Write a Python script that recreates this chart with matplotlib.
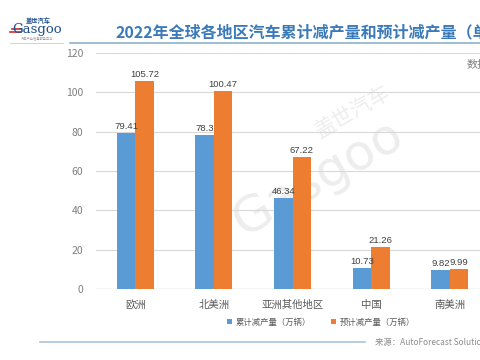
import matplotlib
matplotlib.use('Agg')
import matplotlib.pyplot as plt
import numpy as np

plt.rcParams['font.family'] = ['Noto Sans CJK SC', 'DejaVu Sans']

# data
regions = ['欧洲', '北美洲', '亚洲其他地区', '中国', '南美洲']
cut_so_far = [79.41, 78.3, 46.34, 10.73, 9.82]
cut_expected = [105.72, 100.47, 67.22, 21.26, 9.99]
series_names = ['累计减产量（万辆）', '预计减产量（万辆）']
yticks = [0, 20, 40, 60, 80, 100, 120]

W, H = 480, 360
fig = plt.figure(figsize=(4.8, 3.6), dpi=100)

def px(x, y):
    # pixel coords (from top-left) -> figure fraction
    return x / W, 1 - y / H

# plot area: x 96..489 px, y 53..289 px
ax = fig.add_axes([96 / W, 1 - 289 / H, (489 - 96) / W, (289 - 53) / H])
x = np.arange(len(regions))
bw = 0.236
blue, orange = '#5b9bd5', '#ed7d31'
b1 = ax.bar(x - bw / 2, cut_so_far, bw, color=blue, label=series_names[0], zorder=3)
b2 = ax.bar(x + bw / 2, cut_expected, bw, color=orange, label=series_names[1], zorder=3)
for bars, vals in ((b1, cut_so_far), (b2, cut_expected)):
    for r, v in zip(bars, vals):
        ax.annotate(f'{v:g}', (r.get_x() + r.get_width() / 2, v),
                    xytext=(0, 1.5), textcoords='offset points',
                    ha='center', va='bottom', fontsize=6.8, color='#404040',
                    family='Liberation Sans')

ax.set_xlim(-0.5, len(regions) - 0.5)
ax.set_ylim(0, 120)
ax.set_yticks(yticks)
ax.set_xticks(x)
ax.set_xticklabels(regions)
ax.grid(axis='y', color='#d9d9d9', linewidth=0.8, zorder=0)
for s in ax.spines.values():
    s.set_visible(False)
ax.axhline(0, color='#d0d0d0', linewidth=0.9, zorder=2)
ax.tick_params(axis='both', length=0, colors='#7f7f7f', labelsize=7.5)
ax.tick_params(axis='y', pad=9)
ax.tick_params(axis='x', pad=8, labelcolor='#595959')

# watermark, behind the bars
ax.text(*px(318, 178), 'Gasgoo', transform=fig.transFigure, fontsize=36,
        color='#ededed', rotation=30, ha='center', va='center',
        family='DejaVu Sans', zorder=1)
ax.text(*px(352, 112), '盖世汽车', transform=fig.transFigure, fontsize=15,
        color='#ededed', rotation=30, ha='center', va='center', zorder=1)

# legend
fig.legend(handles=[b1, b2], loc='center', bbox_to_anchor=px(321, 322),
           ncol=2, frameon=False, fontsize=6, handlelength=0.6,
           handleheight=0.6, columnspacing=2.4, handletextpad=0.4,
           labelcolor='#595959')

# header: logo, title, lines
fig.text(*px(38, 21), '盖世汽车', fontsize=4.5, color='#1f4e8c', ha='center',
         va='center', weight='bold')
fig.text(*px(37, 30), 'Gasgoo', fontsize=9.5, color='#1f4e8c', ha='center',
         va='center', family='DejaVu Serif')
fig.text(*px(37, 39.5), '汽车产业信息服务平台', fontsize=2.3, color='#999999',
         ha='center', va='center')
fig.lines.append(plt.Line2D([12 / W, 21 / W], [1 - 29 / H, 1 - 29 / H],
                            transform=fig.transFigure, color='#d7262c', lw=1.2))
fig.lines.append(plt.Line2D([10 / W, 21 / W], [1 - 32 / H, 1 - 32 / H],
                            transform=fig.transFigure, color='#d7262c', lw=1.2))
fig.lines.append(plt.Line2D([10 / W, 63 / W], [1 - 43 / H, 1 - 43 / H],
                            transform=fig.transFigure, color='#cccccc', lw=0.6))
fig.text(*px(115, 32), '2022年全球各地区汽车累计减产量和预计减产量（单位：万辆）',
         fontsize=11.5, color='#3a7ab8', weight='bold', ha='left', va='center')
fig.lines.append(plt.Line2D([70 / W, 1.0], [1 - 43 / H, 1 - 43 / H],
                            transform=fig.transFigure, color='#8db3cf', lw=1.2))
fig.text(*px(467, 65), '数据', fontsize=8, color='#7f7f7f', ha='left', va='center')

# footer
fig.lines.append(plt.Line2D([40 / W, 365 / W], [1 - 342 / H, 1 - 342 / H],
                            transform=fig.transFigure, color='#a9c4dd', lw=1.2))
fig.text(*px(375, 342), '来源：AutoForecast Solutions', fontsize=6,
         color='#8c8c8c', style='italic', ha='left', va='center')

fig.savefig('out.png', dpi=100)
